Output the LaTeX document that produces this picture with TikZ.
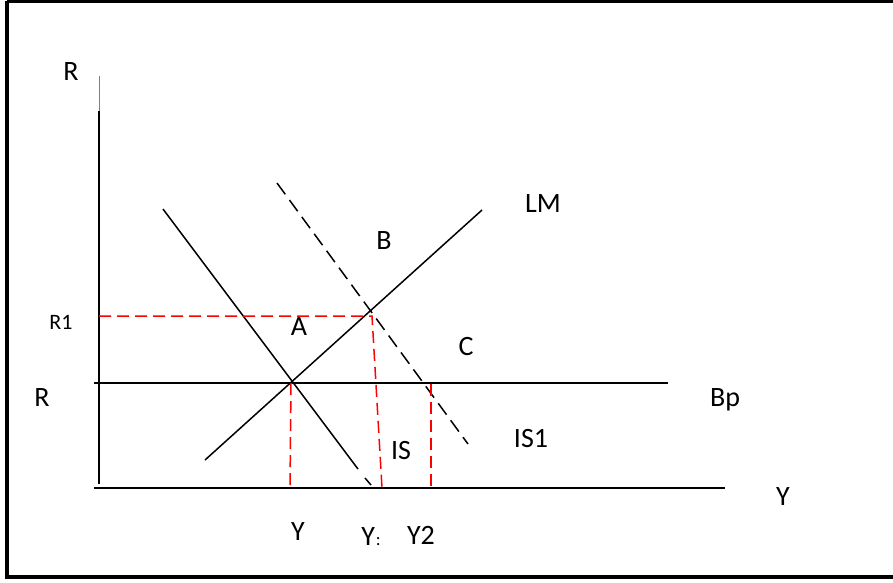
\documentclass[tikz,border=0pt]{standalone}
\usepackage{fontspec}
\setmainfont{Carlito}
\begin{document}
\begin{tikzpicture}[x=1pt,y=-1pt,
    curve/.style={line width=1.5pt},
    guide/.style={red,line width=1.5pt,dash pattern=on 12pt off 6pt},
    lbl/.style={anchor=base,inner sep=0pt,font=\fontsize{28}{30}\selectfont},
    every node/.style={inner sep=0pt}]
  \useasboundingbox (0,0) rectangle (893,582);
  % frame round the figure
  \draw[line width=2.2pt] (7,1.5) -- (905,1.5);
  \draw[line width=3.5pt] (7,0.5) -- (7,577) -- (905,577);
  % axes and the BP line
  \coordinate (rtop) at (99,76);
  \coordinate (rmid) at (99,111);
  \coordinate (rbot) at (99,484);
  \coordinate (yl) at (94,488);
  \coordinate (yr) at (725,488);
  \coordinate (bpl) at (94,383);
  \coordinate (bpr) at (668,383);
  \draw[gray,line width=0.6pt] (rtop) -- (rmid);
  \draw[curve] (rmid) -- (rbot);
  \draw[curve] (yl) -- (yr);
  \draw[curve] (bpl) -- (bpr);
  % LM, IS and the shifted IS1
  \coordinate (lm1) at (205,460);
  \coordinate (lm2) at (482,210);
  \coordinate (is1) at (163,209);
  \coordinate (is2) at (358,469);
  \coordinate (is3) at (365,478);
  \coordinate (is4) at (371,485);
  \coordinate (isd1) at (277,183);
  \coordinate (isd2) at (468,444);
  \draw[curve] (lm1) -- (lm2);
  \draw[curve] (is1) -- (is2) (is3) -- (is4);
  \draw[curve,dash pattern=on 14pt off 7pt] (isd1) -- (isd2);
  % red guides from the equilibria
  \coordinate (ea) at (291,383);
  \coordinate (eb) at (372,316);
  \coordinate (ec) at (431,384);
  \coordinate (r1) at (99,316);
  \coordinate (ya) at (290,488);
  \coordinate (yb) at (382,488);
  \coordinate (yc) at (431,488);
  \draw[guide] (r1) -- (eb) -- (yb);
  \draw[guide] (ea) -- (ya);
  \draw[guide] (ec) -- (yc);
  % labels
  \foreach \n/\x/\y/\t in {rr/71/80/R, rlow/42/406/R, bp/725/406/Bp, lm/543/212/LM,
      pb/384/249/B, pa/299/335/A, pc/466/355/C, is/401/459/IS, isone/531/447/IS1,
      yy/783/505/Y, y0/298/540/Y, ytwo/421/544/Y2}{
    \node[lbl] (\n) at (\x,\y) {\t};
  }
  \node[lbl] (yone) at (371,545) {Y\kern1pt{\fontsize{18}{20}\selectfont:}};
  \node[lbl,font=\fontsize{22}{24}\selectfont] (rone) at (61,329) {R1};
\end{tikzpicture}
\end{document}
